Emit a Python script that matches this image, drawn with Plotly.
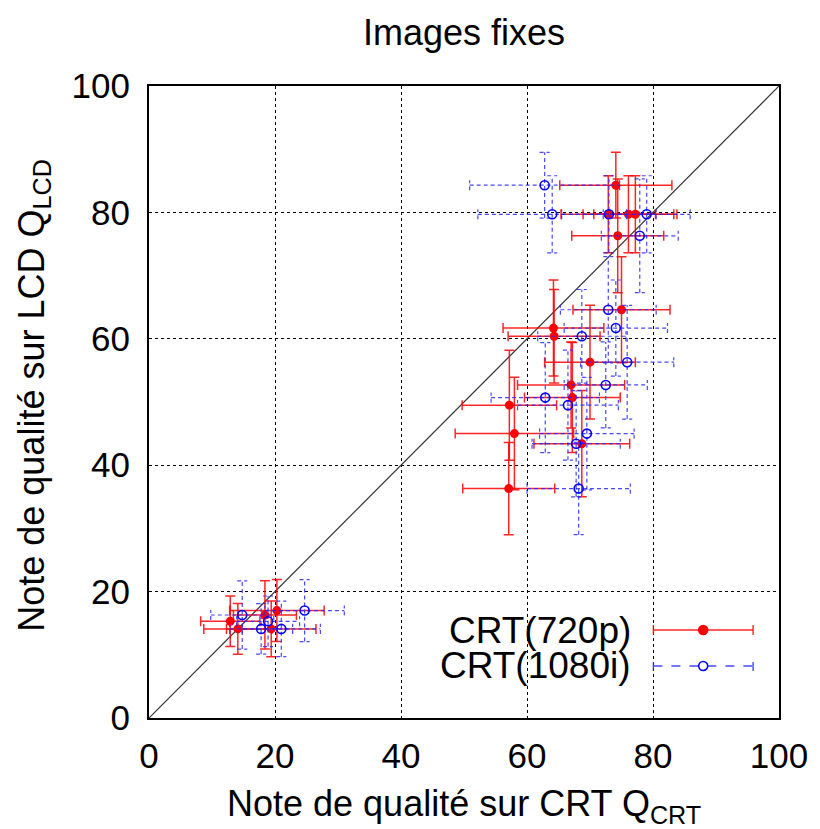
import plotly.graph_objects as go

# ---- data ----
q_lcd = [84.3, 79.7, 79.7, 79.7, 76.3, 64.6, 61.7, 60.4, 56.3, 52.7,
         50.7, 49.5, 45.0, 43.4, 36.3, 15.3, 16.3, 17.0, 14.1, 14.1]
err_lcd = [5.2, 6.1, 6.1, 6.1, 9.0, 8.4, 7.6, 7.4, 9.0, 6.8,
           8.7, 8.7, 8.9, 8.4, 7.3, 4.0, 5.4, 4.9, 4.0, 4.4]

crt_720p = [74.1, 72.9, 76.1, 77.2, 74.4, 75.0, 64.2, 64.3, 70.0, 67.0,
            67.2, 57.2, 58.0, 68.7, 57.1, 12.9, 18.4, 20.3, 14.1, 19.4]
err_720p = [8.9, 7.5, 7.2, 6.6, 7.3, 7.7, 8.0, 7.3, 7.2, 8.5,
            7.6, 7.5, 9.4, 7.6, 7.3, 4.7, 5.0, 7.5, 5.4, 7.1]

crt_1080i = [62.8, 64.0, 73.0, 79.0, 77.9, 72.9, 74.1, 68.7, 75.9, 72.5,
             62.9, 66.5, 69.5, 67.8, 68.2, 18.9, 14.8, 24.7, 17.8, 21.0]
err_1080i = [11.9, 11.8, 7.5, 6.9, 6.1, 7.6, 8.2, 7.0, 7.4, 6.6,
             8.6, 8.0, 7.5, 7.0, 8.2, 5.0, 5.0, 6.3, 5.0, 6.2]

diag = [0, 100]
tick_vals = [0, 20, 40, 60, 80, 100]
series_names = ["CRT(720p)", "CRT(1080i)"]

# ---- style ----
RED = "rgb(255,0,0)"
RED_BAR = "rgba(255,0,0,0.85)"
BLUE = "rgb(0,0,255)"
BLUE_BAR = "rgba(40,40,255,0.85)"
CAP = 0.8  # half cap length in data units for dashed bars
FONT = "Liberation Sans, Arial, sans-serif"

fig = go.Figure()

# diagonal
fig.add_trace(go.Scatter(x=diag, y=diag, mode="lines",
                         line=dict(color="#333333", width=1.2),
                         showlegend=False, hoverinfo="skip"))

# red series with native (solid) error bars
fig.add_trace(go.Scatter(
    x=crt_720p, y=q_lcd, mode="markers", name=series_names[0],
    marker=dict(color=RED, size=9),
    error_x=dict(type="data", array=err_720p, color=RED_BAR, thickness=1.5, width=5),
    error_y=dict(type="data", array=err_lcd, color=RED_BAR, thickness=1.5, width=5),
    showlegend=False))

# blue series: dashed error bars built from the data
hx, hy, vx, vy = [], [], [], []
for x, y, ex, ey in zip(crt_1080i, q_lcd, err_1080i, err_lcd):
    hx += [x - ex, x + ex, None,
           x - ex, x - ex, None,
           x + ex, x + ex, None]
    hy += [y, y, None,
           y - CAP, y + CAP, None,
           y - CAP, y + CAP, None]
    vx += [x, x, None,
           x - CAP, x + CAP, None,
           x - CAP, x + CAP, None]
    vy += [y - ey, y + ey, None,
           y - ey, y - ey, None,
           y + ey, y + ey, None]

fig.add_trace(go.Scatter(x=hx + vx, y=hy + vy, mode="lines",
                         line=dict(color=BLUE_BAR, width=1.2, dash="4px,3px"),
                         showlegend=False, hoverinfo="skip", connectgaps=False))
fig.add_trace(go.Scatter(
    x=crt_1080i, y=q_lcd, mode="markers", name=series_names[1],
    marker=dict(symbol="circle-open", color=BLUE, size=9, line=dict(width=1.6)),
    showlegend=False))

# ---- custom legend (paper coordinates) ----
shapes = []
leg_x0, leg_x1, leg_xm = 0.8006, 0.9589, 0.8797
leg_rows = [(0.1392, RED_BAR, "solid", RED, True),
            (0.0823, BLUE_BAR, "dash", BLUE, False)]
for ly, lc, dash, mc, filled in leg_rows:
    shapes.append(dict(type="line", xref="paper", yref="paper",
                       x0=leg_x0, x1=leg_x1, y0=ly, y1=ly,
                       line=dict(color=lc, width=1.4, dash=dash)))
    for cx in (leg_x0, leg_x1):
        shapes.append(dict(type="line", xref="paper", yref="paper",
                           ysizemode="pixel", yanchor=ly, y0=-5, y1=5,
                           x0=cx, x1=cx,
                           line=dict(color=lc, width=1.4, dash=dash)))
    shapes.append(dict(type="circle", xref="paper", yref="paper",
                       xsizemode="pixel", ysizemode="pixel",
                       xanchor=leg_xm, yanchor=ly,
                       x0=-4.5, x1=4.5, y0=-4.5, y1=4.5,
                       fillcolor=mc if filled else "white",
                       line=dict(color=mc, width=1.6)))

annotations = [
    dict(text=series_names[0], xref="paper", yref="paper", x=0.768, y=0.1392,
         xanchor="right", yanchor="middle", showarrow=False,
         font=dict(size=37, color="black", family=FONT)),
    dict(text=series_names[1], xref="paper", yref="paper", x=0.768, y=0.0823,
         xanchor="right", yanchor="middle", showarrow=False,
         font=dict(size=37, color="black", family=FONT)),
    dict(text="Note de qualité sur CRT Q<sub>CRT</sub>", xref="paper", yref="paper",
         x=0.5, y=-0.14, xanchor="center", yanchor="middle", showarrow=False,
         font=dict(size=36, color="black", family=FONT)),
    dict(text="Note de qualité sur LCD Q<sub>LCD</sub>", xref="paper", yref="paper",
         x=-0.183, y=0.511, xanchor="center", yanchor="middle", showarrow=False,
         textangle=-90, font=dict(size=36, color="black", family=FONT)),
    dict(text="Images fixes", xref="paper", yref="paper",
         x=0.5, y=1.0854, xanchor="center", yanchor="middle", showarrow=False,
         font=dict(size=36, color="black", family=FONT)),
]

axis_common = dict(range=[0, 100], tickvals=tick_vals, ticktext=[str(v) for v in tick_vals],
                   showgrid=True, gridcolor="black", griddash="dot", gridwidth=1,
                   zeroline=False, showline=True, linecolor="black", linewidth=2,
                   mirror=True, ticks="", tickfont=dict(size=35, color="black", family=FONT),
                   fixedrange=True)

fig.update_layout(
    width=820, height=829,
    margin=dict(l=149, r=39, t=86, b=111),
    paper_bgcolor="white", plot_bgcolor="white",
    xaxis=dict(**axis_common, ticklabelstandoff=6),
    yaxis=dict(**axis_common, ticklabelstandoff=10),
    shapes=shapes, annotations=annotations,
    showlegend=False, hovermode=False,
    font=dict(family=FONT, color="black"),
)

fig.write_html("out.html", config={"displayModeBar": False, "staticPlot": True},
               post_script="document.body.style.margin='0';document.body.style.overflow='hidden';")
